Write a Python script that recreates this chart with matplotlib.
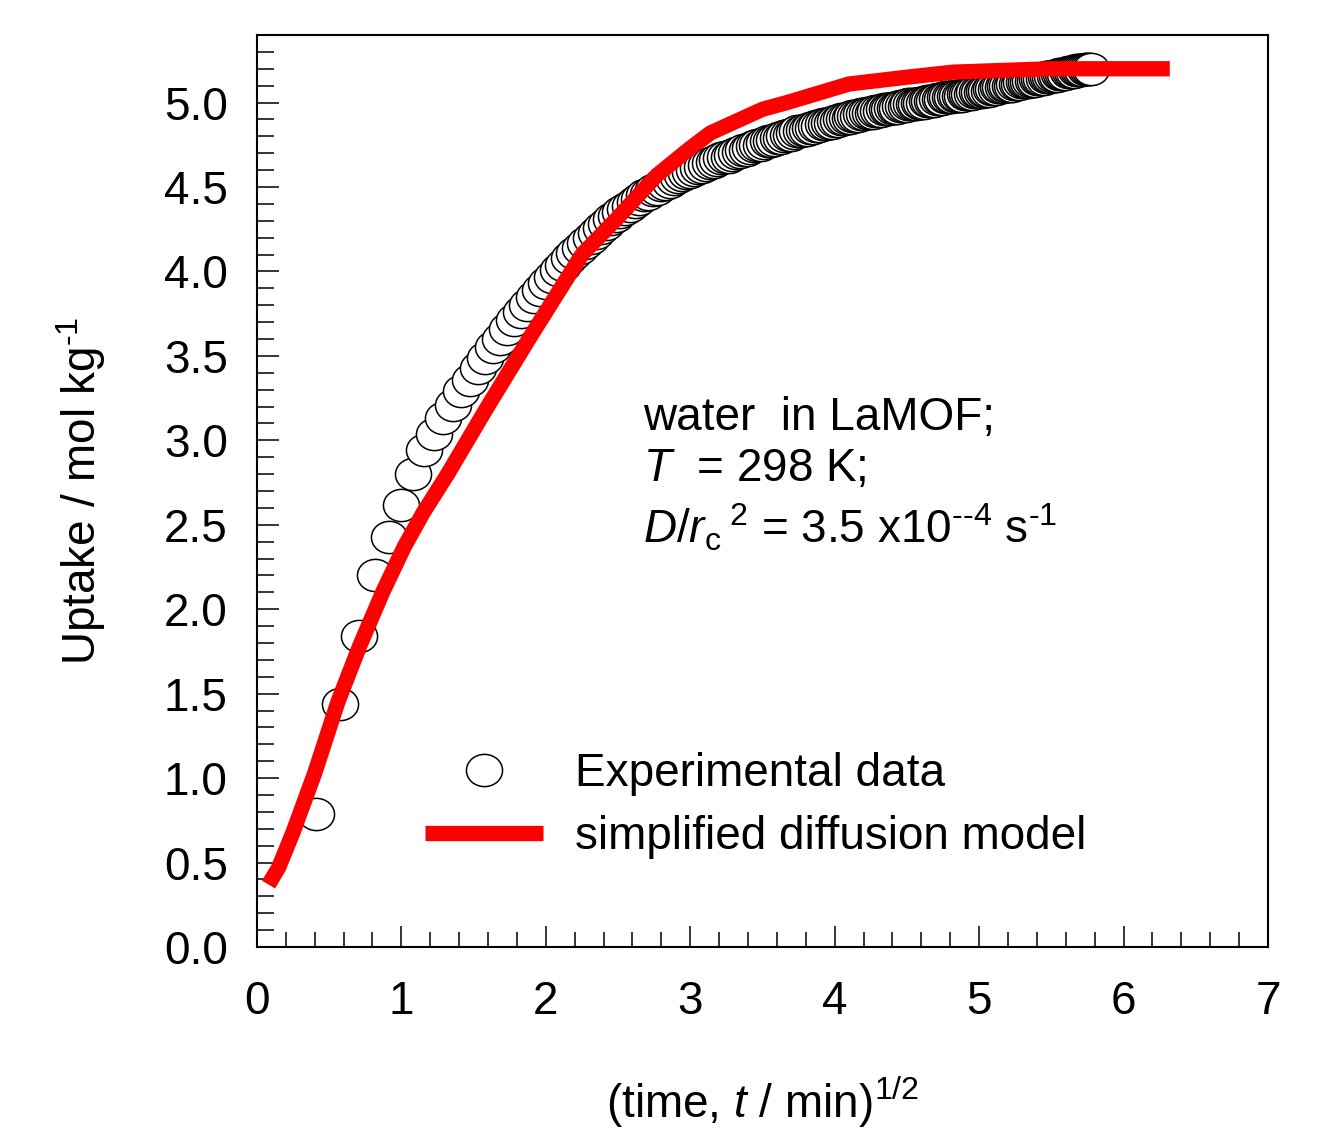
import numpy as np
import matplotlib
matplotlib.use("Agg")
import matplotlib.pyplot as plt
from matplotlib.path import Path
from matplotlib.transforms import Affine2D
from matplotlib.lines import Line2D

plt.rcParams["font.family"] = ["Liberation Sans", "DejaVu Sans"]
plt.rcParams["mathtext.fontset"] = "custom"
plt.rcParams["mathtext.rm"] = "Liberation Sans"
plt.rcParams["mathtext.it"] = "Liberation Sans:italic"
plt.rcParams["mathtext.bf"] = "Liberation Sans:bold"

# experimental uptake, one reading every 10 s (t in minutes)
time_s = np.arange(10, 2001, 10)
uptake_exp = [
    0.79, 1.44, 1.84, 2.20, 2.43, 2.62, 2.80, 2.94, 3.04, 3.13,
    3.21, 3.29, 3.36, 3.43, 3.49, 3.55, 3.60, 3.66, 3.71, 3.76,
    3.80, 3.85, 3.89, 3.93, 3.97, 4.01, 4.04, 4.08, 4.11, 4.14,
    4.17, 4.20, 4.23, 4.26, 4.28, 4.31, 4.33, 4.35, 4.37, 4.39,
    4.41, 4.43, 4.45, 4.46, 4.48, 4.49, 4.51, 4.52, 4.53, 4.55,
    4.56, 4.57, 4.58, 4.59, 4.60, 4.61, 4.62, 4.63, 4.64, 4.65,
    4.66, 4.67, 4.68, 4.68, 4.69, 4.70, 4.71, 4.72, 4.72, 4.73,
    4.74, 4.75, 4.75, 4.76, 4.77, 4.77, 4.78, 4.79, 4.79, 4.80,
    4.81, 4.81, 4.82, 4.83, 4.83, 4.84, 4.84, 4.85, 4.85, 4.86,
    4.86, 4.87, 4.87, 4.88, 4.88, 4.89, 4.89, 4.90, 4.90, 4.91,
    4.91, 4.92, 4.92, 4.92, 4.93, 4.93, 4.94, 4.94, 4.94, 4.95,
    4.95, 4.95, 4.96, 4.96, 4.96, 4.97, 4.97, 4.97, 4.98, 4.98,
    4.98, 4.99, 4.99, 4.99, 4.99, 5.00, 5.00, 5.00, 5.01, 5.01,
    5.01, 5.01, 5.02, 5.02, 5.02, 5.03, 5.03, 5.03, 5.03, 5.04,
    5.04, 5.04, 5.04, 5.05, 5.05, 5.05, 5.05, 5.06, 5.06, 5.06,
    5.06, 5.07, 5.07, 5.07, 5.08, 5.08, 5.08, 5.09, 5.09, 5.09,
    5.10, 5.10, 5.10, 5.10, 5.11, 5.11, 5.11, 5.12, 5.12, 5.12,
    5.12, 5.13, 5.13, 5.13, 5.14, 5.14, 5.14, 5.14, 5.15, 5.15,
    5.15, 5.16, 5.16, 5.16, 5.17, 5.17, 5.17, 5.17, 5.18, 5.18,
    5.18, 5.18, 5.19, 5.19, 5.19, 5.19, 5.20, 5.20, 5.20, 5.20,
]

# simplified diffusion model
model_sqrt_t = [0.08, 0.15, 0.25, 0.40, 0.56, 0.71, 0.87, 1.02, 1.15, 1.32,
                1.59, 1.89, 2.25, 2.50, 2.65, 2.77, 3.00, 3.14, 3.50, 3.67,
                4.10, 4.50, 4.82, 5.50, 6.32]
model_uptake = [0.37, 0.47, 0.68, 1.03, 1.45, 1.78, 2.10, 2.37, 2.57, 2.80,
                3.19, 3.61, 4.10, 4.32, 4.46, 4.57, 4.73, 4.82, 4.96, 5.00,
                5.11, 5.15, 5.18, 5.20, 5.20]

x_ticks = [0, 1, 2, 3, 4, 5, 6, 7]
y_ticks = [0.0, 0.5, 1.0, 1.5, 2.0, 2.5, 3.0, 3.5, 4.0, 4.5, 5.0]

sqrt_t = np.sqrt(time_s / 60.0)

# slightly wide open circle, as in the original
ellipse = Path.unit_circle().transformed(Affine2D().scale(1.12, 1.0))

fig = plt.figure(figsize=(13.17, 11.32), dpi=100)
ax = fig.add_axes([0.1951, 0.1634, 0.7677, 0.8057])

ax.plot(sqrt_t, uptake_exp, linestyle="none", marker=ellipse, markersize=26,
        markerfacecolor="white", markeredgecolor="black", markeredgewidth=1.1,
        zorder=2)
ax.plot(model_sqrt_t, model_uptake, color="#ff0000", linewidth=11,
        solid_capstyle="butt", solid_joinstyle="round", zorder=3)

ax.set_xlim(0, 7)
ax.set_ylim(0, 5.4)
ax.set_xticks(x_ticks)
ax.set_yticks(y_ticks)
ax.set_xticklabels([str(v) for v in x_ticks])
ax.set_yticklabels([f"{v:.1f}" for v in y_ticks])
ax.set_xticks(np.arange(0, 7.01, 0.2), minor=True)
ax.set_yticks(np.arange(0, 5.41, 0.1), minor=True)
ax.tick_params(which="both", direction="in", top=False, right=False,
               width=1.1, labelsize=33)
ax.tick_params(axis="x", which="major", length=15, pad=24)
ax.tick_params(axis="y", which="major", length=16, pad=21)
ax.tick_params(axis="x", which="minor", length=11)
ax.tick_params(axis="y", which="minor", length=12)
for sp in ax.spines.values():
    sp.set_linewidth(1.5)

ax.set_ylabel("Uptake / mol kg$^{\\text{-1}}$", fontsize=33, labelpad=40)
ax.set_xlabel("(time, $t$ / min)$^{1/2}$", fontsize=33, labelpad=36)

ax.text(2.67, 3.06, "water  in LaMOF;", fontsize=33, va="baseline")
ax.text(2.67, 2.76, "$T$  = 298 K;", fontsize=33, va="baseline")
ax.text(2.67, 2.39,
        "$D/r_\\mathrm{c}{}^{\\;2}$ = 3.5 x10$^{\\text{--4}}$ s$^{\\text{-1}}$",
        fontsize=33, va="baseline")

handles = [
    Line2D([], [], linestyle="none", marker=ellipse, markersize=26,
           markerfacecolor="white", markeredgecolor="black",
           markeredgewidth=1.1),
    Line2D([], [], color="#ff0000", linewidth=11, solid_capstyle="butt"),
]
ax.legend(handles, ["Experimental data", "simplified diffusion model"],
          loc="center left", bbox_to_anchor=(0.166, 0.155), frameon=False,
          fontsize=33, handlelength=2.57, handletextpad=0.7,
          labelspacing=0.4, borderpad=0, borderaxespad=0)

fig.savefig("out.png", dpi=100)
